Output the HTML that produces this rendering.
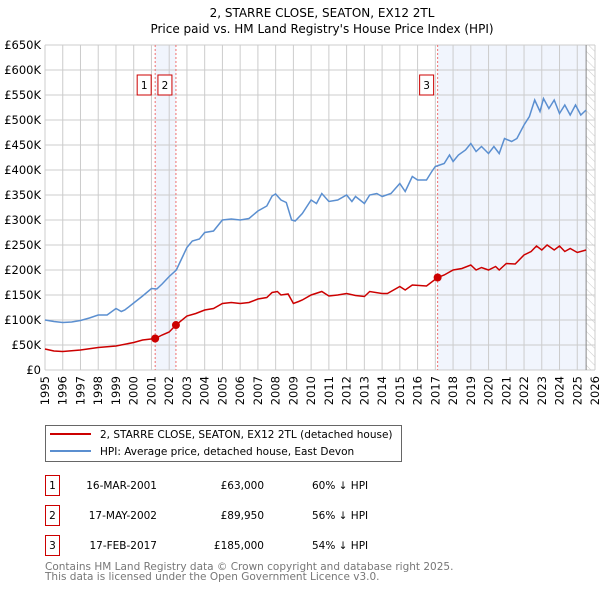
<!DOCTYPE html>
<html><head><meta charset="utf-8"><style>
body{margin:0;background:#fff;font-family:"DejaVu Sans","Liberation Sans",sans-serif;}
svg text{font-family:"DejaVu Sans","Liberation Sans",sans-serif;}
</style></head><body>
<svg id="c" width="600" height="590" xmlns="http://www.w3.org/2000/svg">
<text x="322" y="17" text-anchor="middle" font-size="12">2, STARRE CLOSE, SEATON, EX12 2TL</text>
<text x="322" y="33" text-anchor="middle" font-size="12">Price paid vs. HM Land Registry's House Price Index (HPI)</text>
<g id="plot"></g>
<g>
<rect x="45.5" y="425.5" width="356" height="36" fill="#fff" stroke="#666"/>
<line x1="50" y1="434" x2="91" y2="434" stroke="#cc0000" stroke-width="2"/>
<text x="100" y="438" font-size="10.5">2, STARRE CLOSE, SEATON, EX12 2TL (detached house)</text>
<line x1="50" y1="451" x2="91" y2="451" stroke="#5b8fd0" stroke-width="2"/>
<text x="100" y="455" font-size="10.5">HPI: Average price, detached house, East Devon</text>
</g>
<g id="tbl" font-size="10.5"></g>
<text x="45" y="570" font-size="10.5" fill="#777">Contains HM Land Registry data © Crown copyright and database right 2025.</text>
<text x="45" y="580" font-size="10.5" fill="#777">This data is licensed under the Open Government Licence v3.0.</text>
</svg>
<script>
const hpiYears=[1995,1995.5,1996,1996.5,1997,1997.5,1998,1998.5,1999,1999.3,1999.5,2000,2000.5,2001,2001.3,2001.6,2002,2002.4,2002.8,2003,2003.3,2003.7,2004,2004.5,2005,2005.5,2006,2006.5,2007,2007.5,2007.8,2008,2008.3,2008.6,2008.9,2009.1,2009.5,2010,2010.3,2010.6,2011,2011.5,2012,2012.3,2012.5,2013,2013.3,2013.7,2014,2014.5,2015,2015.3,2015.7,2016,2016.5,2016.8,2017,2017.5,2017.8,2018,2018.3,2018.7,2019,2019.3,2019.6,2020,2020.3,2020.6,2020.9,2021.3,2021.6,2022,2022.3,2022.6,2022.9,2023.1,2023.4,2023.7,2024,2024.3,2024.6,2024.9,2025.2,2025.5];
const hpiValues=[100,97,95,96,99,104,110,110,123,117,120,134,148,163,162,172,187,200,230,245,258,262,275,278,300,302,300,303,318,328,348,352,340,335,300,298,313,340,333,353,337,340,350,337,347,333,350,353,347,353,373,357,387,380,380,397,407,413,430,417,430,440,453,437,447,433,447,433,463,457,463,490,507,540,517,543,523,540,513,530,510,530,510,520];
const ppYears=[1995,1995.5,1996,1997,1998,1999,2000,2000.5,2001.21,2001.6,2002,2002.38,2003,2003.5,2004,2004.5,2005,2005.5,2006,2006.5,2007,2007.5,2007.8,2008.1,2008.3,2008.7,2009,2009.3,2009.5,2010,2010.6,2011,2011.5,2012,2012.5,2013,2013.3,2014,2014.3,2015,2015.3,2015.7,2016.5,2017.13,2017.5,2018,2018.5,2019,2019.3,2019.6,2020,2020.4,2020.6,2021,2021.5,2022,2022.4,2022.7,2023,2023.3,2023.7,2024,2024.3,2024.6,2025,2025.5];
const ppValues=[42,38,37,40,45,48,55,60,63,70,76,90,108,113,120,123,133,135,133,135,142,145,155,157,150,152,133,137,140,150,157,148,150,153,149,147,157,153,153,167,160,170,168,185,190,200,203,210,200,205,200,207,200,213,212,230,237,248,240,250,240,248,237,243,235,240];
const saleYears=[2001.21,2002.38,2017.13];
const saleValues=[63,89.95,185];
const saleLabels=["1","2","3"];
const saleDates=["16-MAR-2001","17-MAY-2002","17-FEB-2017"];
const salePrices=["£63,000","£89,950","£185,000"];
const saleDiffs=["60% ↓ HPI","56% ↓ HPI","54% ↓ HPI"];
const yTicks=[0,50,100,150,200,250,300,350,400,450,500,550,600,650];
const xTicks=[1995,1996,1997,1998,1999,2000,2001,2002,2003,2004,2005,2006,2007,2008,2009,2010,2011,2012,2013,2014,2015,2016,2017,2018,2019,2020,2021,2022,2023,2024,2025,2026];
const dataEnd=2025.5;
const X0=45,X1=595,Y0=370,Y1=45;
const x=t=>X0+(t-1995)/(2026-1995)*(X1-X0);
const y=v=>Y0-v/650*(Y0-Y1);
const NS="http://www.w3.org/2000/svg";
const plot=document.getElementById('plot');
function mk(tag,attrs,parent){const e=document.createElementNS(NS,tag);for(const k in attrs)e.setAttribute(k,attrs[k]);(parent||plot).appendChild(e);return e;}
let r=mk('rect',{x:x(saleYears[0]),y:Y1,width:x(saleYears[1])-x(saleYears[0]),height:Y0-Y1,fill:'#eef3fc',opacity:0.8});


r=mk('rect',{x:x(saleYears[2]),y:Y1,width:x(dataEnd)-x(saleYears[2]),height:Y0-Y1,fill:'#eef3fc',opacity:0.8});


const defs=mk('defs',{});
const pat=mk('pattern',{id:'h',width:6,height:6,patternUnits:'userSpaceOnUse',patternTransform:'rotate(-45)'},defs);
mk('line',{x1:0,y1:0,x2:0,y2:6,stroke:'#ccc','stroke-width':1},pat);
r=mk('rect',{x:x(dataEnd),y:Y1,width:X1-x(dataEnd),height:Y0-Y1,fill:'url(#h)'});


yTicks.forEach(v=>{
 mk('line',{x1:X0,x2:X1,y1:y(v),y2:y(v),stroke:'#ccc','stroke-width':1});
 const t=mk('text',{x:X0-4,y:y(v)+4,'text-anchor':'end','font-size':11.5});t.textContent=v===0?'£0':'£'+v+'K';
 
 
});
xTicks.forEach(v=>{
 mk('line',{x1:x(v),x2:x(v),y1:Y1,y2:Y0,stroke:'#ccc','stroke-width':1});
 const t=mk('text',{x:0,y:0,'font-size':11.5,'text-anchor':'end',transform:`translate(${x(v)+4},${Y0+6}) rotate(-90)`});t.textContent=v;
 
 
});
mk('line',{x1:x(dataEnd),x2:x(dataEnd),y1:Y1,y2:Y0,stroke:'#888','stroke-width':1});
saleYears.forEach((s,i)=>{
 const l=mk('line',{x1:x(s),x2:x(s),y1:Y1,y2:Y0,stroke:'#f07070','stroke-width':1,'stroke-dasharray':'2,2'});
 
 
 const b=mk('rect',{x:x(s)-18,y:75,width:14,height:20,fill:'#fff',stroke:'#cc0000'});
 
 
 const t=mk('text',{x:x(s)-11,y:89,'text-anchor':'middle','font-size':10.5});t.textContent=saleLabels[i];
});
const path=(xs,vs)=>xs.map((t,i)=>(i?'L':'M')+x(t).toFixed(1)+','+y(vs[i]).toFixed(1)).join('');
let p=mk('path',{d:path(hpiYears,hpiValues),fill:'none',stroke:'#5b8fd0','stroke-width':1.5});


p=mk('path',{d:path(ppYears,ppValues),fill:'none',stroke:'#cc0000','stroke-width':1.5});


saleYears.forEach((s,i)=>{
 const c=mk('circle',{cx:x(s),cy:y(saleValues[i]),r:4,fill:'#cc0000'});
 
 
});
const tbl=document.getElementById('tbl');
saleLabels.forEach((lab,i)=>{
 const yy=475+i*30;
 const b=mk('rect',{x:45.5,y:yy+0.5,width:14,height:20,fill:'#fff',stroke:'#cc0000'},tbl);
 
 
 const mkT=(tx,anchor,txt,name)=>{const t=mk('text',{x:tx,y:yy+14,'text-anchor':anchor},tbl);t.textContent=txt;
  
  };
 mkT(52.5,'middle',lab,'table-row-number');
 mkT(157,'end',saleDates[i],'table-date');
 mkT(264,'end',salePrices[i],'table-price');
 mkT(312,'start',saleDiffs[i],'table-hpi-diff');
});
</script>
</body></html>
